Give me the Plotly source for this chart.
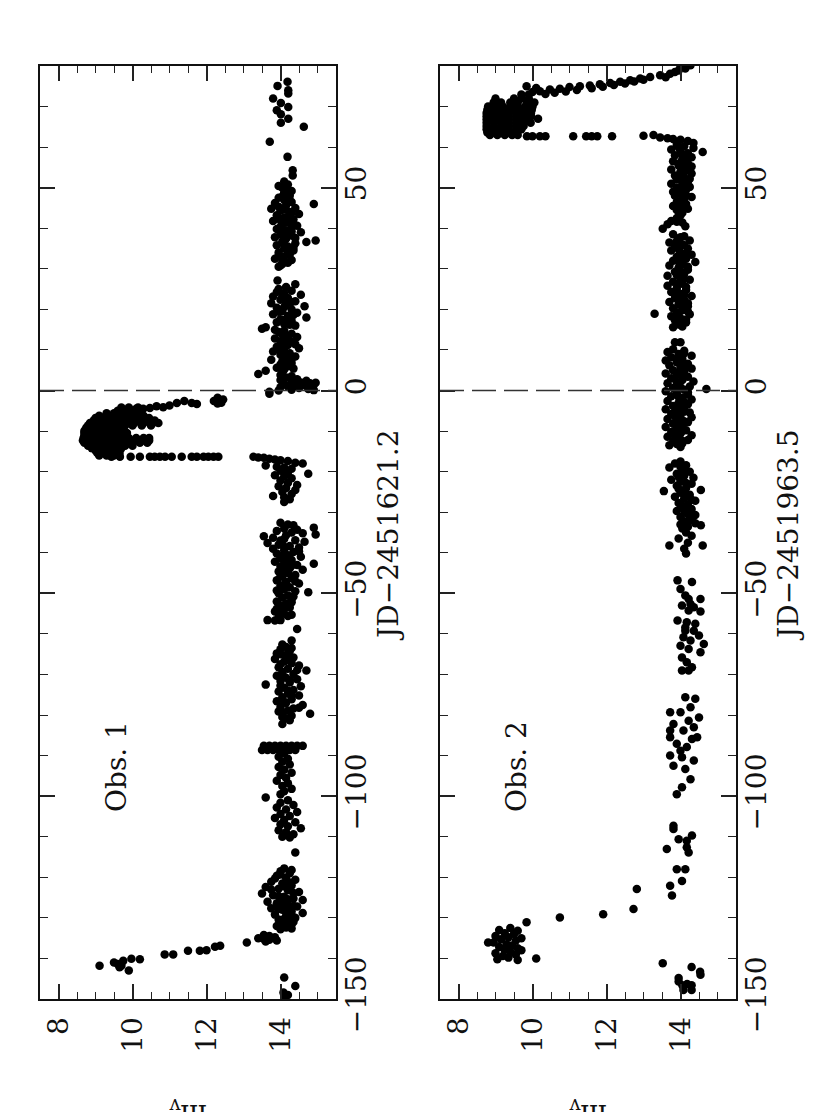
import plotly.graph_objects as go

# ---- data: (JD offset, m_v) ----

# Obs. 1  (JD - 2451621.2)
obs1_late = [(76.1, 14.19), (75.1, 13.92), (74.0, 14.21), (73.2, 14.21), (72.0, 13.80), (70.9, 14.01),
             (69.9, 14.21), (69.1, 13.90), (68.1, 14.01), (67.0, 14.21), (66.0, 14.01), (65.0, 14.63),
             (61.3, 13.71), (57.6, 14.19), (54.3, 14.33), (53.0, 14.33)]

obs1_q2 = [(51.5, 14.1), (50.8, 14.2), (50.0, 14.05), (49.5, 14.2), (48.8, 14.1), (48.0, 14.25), (47.5, 13.95),
           (47.0, 14.1), (46.5, 14.3), (46.0, 14.9), (46.2, 13.85), (45.6, 14.15), (45.0, 14.4), (44.8, 13.75),
           (44.3, 14.0), (44.0, 14.25), (43.5, 14.5), (43.2, 13.9), (42.6, 14.1), (42.2, 14.35), (41.8, 13.8),
           (41.5, 14.2), (41.0, 14.05), (40.6, 14.45), (40.2, 14.3), (39.8, 13.9), (39.5, 14.15), (39.0, 14.55),
           (38.6, 14.0), (38.2, 14.3), (37.8, 13.85), (37.4, 14.15), (37.0, 14.95), (36.6, 14.7), (36.8, 14.05),
           (36.3, 14.4), (35.8, 13.9), (35.5, 14.2), (35.0, 14.1), (34.5, 14.35), (34.0, 13.95), (33.6, 14.25),
           (33.0, 14.1), (32.5, 13.85), (32.0, 14.05), (31.5, 14.2), (30.8, 14.0), (30.5, 13.95),
           (50.4, 13.95), (49.2, 14.3), (47.8, 14.05), (46.8, 14.25), (45.3, 13.95), (44.6, 14.1), (43.8, 14.3),
           (42.9, 14.2), (42.0, 14.0), (41.2, 14.35), (40.4, 14.0), (39.2, 14.3), (38.4, 14.1), (37.6, 14.4),
           (36.0, 14.1), (35.2, 14.35), (34.2, 14.2), (33.3, 13.95), (32.2, 14.3), (31.2, 14.05)]

obs1_q3 = [(27.1, 13.92), (26.2, 14.4), (25.0, 13.95), (24.6, 14.3), (24.0, 14.1), (23.6, 14.55), (23.2, 13.8),
           (22.8, 14.2), (22.4, 14.0), (22.0, 14.4), (21.5, 13.75), (21.2, 14.15), (20.8, 14.65), (20.4, 13.9),
           (20.0, 14.3), (19.6, 14.05), (19.2, 14.45), (18.8, 13.8), (18.4, 14.2), (18.0, 14.7), (17.6, 14.0),
           (17.2, 14.3), (16.8, 13.9), (16.4, 14.1), (16.0, 14.4), (15.6, 13.6), (15.2, 13.5), (14.8, 14.1),
           (14.4, 13.95), (14.0, 14.3), (13.6, 14.15), (13.2, 14.45), (12.8, 13.85), (12.4, 14.05), (12.0, 14.3),
           (11.6, 14.0), (11.2, 14.2), (10.8, 13.9), (10.4, 14.5), (10.0, 14.1), (9.6, 13.8), (9.2, 14.25),
           (8.8, 14.0), (8.4, 14.4), (8.0, 14.15), (7.6, 13.75), (7.2, 14.05), (6.8, 14.3), (6.4, 14.0),
           (6.0, 14.2), (5.6, 13.9), (5.2, 14.1), (4.9, 13.6), (4.1, 13.4), (4.5, 14.05), (3.8, 14.0),
           (3.2, 14.15), (2.6, 14.0), (2.2, 14.3), (2.0, 14.55), (1.8, 14.8), (1.6, 14.1), (1.5, 14.9),
           (1.3, 14.65), (1.2, 14.4), (1.0, 14.2), (0.8, 14.0), (0.6, 14.5), (0.4, 14.75), (0.2, 14.3),
           (0.0, 13.95), (0.1, 14.9), (-0.3, 13.7), (-0.8, 13.7), (2.4, 14.7), (1.9, 14.95), (0.9, 14.85),
           (25.5, 14.15), (24.3, 13.9), (23.0, 14.05), (21.8, 14.3), (20.6, 14.1), (19.4, 13.95), (18.6, 14.35),
           (17.4, 14.1), (16.2, 14.25), (15.0, 13.85), (13.8, 14.05), (12.6, 14.2), (11.4, 14.4), (10.2, 13.95),
           (9.0, 14.1), (7.8, 14.3), (6.6, 14.15), (5.4, 14.35), (3.5, 14.3), (2.8, 14.45)]

# outburst near JD -2 ... -17, stored as rows {JD: [m_v, ...]}
obs1_burst_rows = {
    -4.2: [9.7, 9.9, 10.15],
    -5.0: [9.6, 9.8, 10.0, 10.2],
    -5.6: [9.3, 9.5, 9.7, 9.9, 10.1],
    -6.2: [9.1, 9.3, 9.5, 9.7, 9.9, 10.1, 10.3],
    -6.8: [9.0, 9.2, 9.4, 9.6, 9.8, 10.0, 10.2, 10.45],
    -7.4: [8.95, 9.15, 9.35, 9.55, 9.75, 9.95, 10.15, 10.4, 10.6],
    -8.0: [8.85, 9.05, 9.25, 9.45, 9.65, 9.85, 10.05, 10.3, 10.55, 10.7],
    -8.6: [8.8, 9.0, 9.2, 9.4, 9.6, 9.8, 10.0, 10.25, 10.5],
    -9.2: [8.75, 8.95, 9.15, 9.35, 9.55, 9.75],
    -9.9: [8.7, 8.9, 9.1, 9.3, 9.5, 9.7],
    -10.5: [8.7, 8.9, 9.1, 9.3, 9.5, 9.7, 9.85],
    -11.1: [8.7, 8.9, 9.1, 9.3, 9.5, 9.7],
    -11.7: [8.68, 8.88, 9.08, 9.28, 9.48, 9.68, 9.9, 10.1, 10.3, 10.45],
    -12.3: [8.66, 8.86, 9.06, 9.26, 9.46, 9.66, 9.86, 10.06, 10.26, 10.45],
    -12.9: [8.7, 8.9, 9.1, 9.3, 9.5, 9.7, 9.95, 10.2, 10.4],
    -13.6: [8.8, 9.0, 9.2, 9.4, 9.6, 9.8, 10.0],
    -14.2: [8.9, 9.1, 9.3, 9.5, 9.7],
    -14.8: [9.0, 9.2, 9.4, 9.6],
    -15.4: [9.05, 9.25, 9.45, 9.65],
    -16.0: [9.1, 9.3, 9.5],
    -16.3: [9.43, 9.66, 9.95, 10.2, 10.47, 10.6, 10.74, 10.88, 11.06, 11.33, 11.6, 11.74, 11.92,
            12.05, 12.19, 12.32],
}
obs1_burst_tail = [(-1.8, 12.3), (-2.2, 12.45), (-2.6, 12.2), (-3.0, 12.4), (-3.2, 12.3),
                   (-3.3, 11.74), (-3.1, 11.6), (-2.6, 11.4), (-3.1, 11.2), (-3.7, 11.0), (-4.1, 10.83),
                   (-3.9, 10.65), (-4.3, 10.47), (-4.5, 10.29), (-4.5, 10.1), (-4.8, 9.93), (-4.9, 9.75)]

obs1_q4 = [(-16.3, 13.27), (-16.5, 13.4), (-16.6, 13.55), (-16.8, 13.7), (-17.0, 13.85), (-17.2, 14.0),
           (-17.4, 14.2), (-17.8, 14.4), (-18.0, 14.6), (-18.5, 13.6), (-18.8, 13.9), (-19.0, 14.1),
           (-19.3, 14.3), (-19.8, 14.0), (-20.2, 14.2), (-20.5, 14.75), (-20.9, 13.85), (-21.2, 14.1),
           (-21.6, 14.3), (-22.2, 14.0), (-22.8, 14.2), (-23.3, 14.45), (-23.6, 13.95), (-24.0, 14.15),
           (-24.5, 14.4), (-25.0, 14.05), (-25.5, 14.3), (-26.0, 13.8), (-26.3, 14.1), (-26.8, 14.25),
           (-27.5, 14.1)]

obs1_q5 = [(-32.6, 14.0), (-33.0, 14.2), (-33.2, 14.35), (-33.8, 14.9), (-34.0, 14.1), (-34.6, 13.9),
           (-35.0, 14.3), (-35.2, 14.6), (-35.5, 14.95), (-35.9, 13.55), (-36.3, 13.8), (-36.6, 14.1),
           (-36.9, 14.4), (-37.3, 14.65), (-37.6, 13.65), (-38.0, 13.95), (-38.3, 14.25), (-38.7, 14.5),
           (-39.0, 13.8), (-39.4, 14.1), (-39.8, 14.35), (-40.2, 13.9), (-40.6, 14.2), (-41.0, 14.55),
           (-41.4, 14.0), (-41.8, 14.3), (-42.2, 13.85), (-42.7, 14.9), (-42.6, 14.15), (-43.0, 14.45),
           (-43.4, 14.0), (-43.8, 14.25), (-44.2, 14.6), (-44.6, 13.95), (-45.0, 14.2), (-45.5, 14.4),
           (-45.9, 14.05), (-46.3, 14.3), (-46.8, 13.9), (-47.2, 14.15), (-47.6, 14.5), (-48.0, 14.0),
           (-48.5, 14.25), (-49.0, 14.1), (-49.7, 14.75), (-49.5, 14.4), (-50.0, 13.95), (-50.5, 14.2),
           (-51.0, 14.05), (-51.5, 14.3), (-52.0, 13.9), (-52.5, 14.15), (-53.0, 14.0), (-53.5, 14.25),
           (-54.0, 14.1), (-54.5, 13.85), (-55.0, 14.05), (-55.6, 14.2), (-56.6, 13.65), (-56.7, 13.85),
           (-56.6, 14.0), (-58.8, 14.45), (-61.6, 14.3),
           (-34.3, 14.45), (-35.7, 14.15), (-37.0, 14.0), (-38.5, 14.1), (-39.6, 14.5), (-40.8, 14.0),
           (-42.0, 14.1), (-43.2, 14.3), (-44.4, 14.1), (-45.7, 14.0), (-47.0, 14.4), (-48.2, 14.15),
           (-49.3, 13.9), (-50.8, 14.35), (-52.2, 14.3), (-53.8, 13.9), (-55.3, 14.3), (-55.9, 13.95)]

obs1_q6 = [(-62.6, 14.05), (-63.2, 14.15), (-63.8, 14.0), (-64.2, 14.25), (-64.8, 13.9), (-65.2, 14.15),
           (-65.8, 14.35), (-66.2, 13.85), (-66.8, 14.1), (-67.2, 14.3), (-67.8, 14.5), (-68.2, 13.95),
           (-68.6, 14.2), (-69.0, 14.7), (-69.4, 14.05), (-69.9, 14.35), (-70.3, 13.9), (-70.8, 14.15),
           (-71.2, 14.45), (-71.6, 14.0), (-72.0, 14.25), (-72.5, 13.6), (-72.9, 14.55), (-73.3, 14.1),
           (-73.8, 14.35), (-74.2, 13.95), (-74.7, 14.2), (-75.2, 14.5), (-75.6, 14.05), (-76.1, 14.3),
           (-76.6, 13.9), (-77.0, 14.15), (-77.5, 14.6), (-78.0, 14.0), (-78.4, 14.35), (-78.9, 14.2),
           (-79.4, 14.05), (-79.7, 14.8), (-80.2, 14.3), (-80.8, 14.15), (-81.3, 14.25), (-82.2, 14.05),
           (-63.5, 14.3), (-65.0, 14.0), (-66.5, 14.25), (-67.5, 14.0), (-68.9, 14.45), (-70.0, 14.05),
           (-71.4, 14.25), (-72.7, 14.0), (-74.0, 14.2), (-75.4, 14.3), (-76.8, 14.1), (-78.2, 14.5),
           (-79.1, 13.95), (-80.5, 14.05)]

obs1_q7 = [(-87.6, 13.55), (-87.6, 13.7), (-87.6, 13.85), (-87.6, 14.0), (-87.6, 14.15), (-87.6, 14.3),
           (-87.6, 14.45), (-87.6, 14.6), (-88.6, 13.5), (-88.6, 13.65), (-88.6, 13.8), (-88.6, 13.95),
           (-88.6, 14.1), (-88.6, 14.25), (-88.6, 14.4), (-89.5, 14.1), (-90.3, 13.95), (-90.8, 14.2),
           (-91.5, 14.05), (-92.2, 14.25), (-92.8, 13.95), (-93.5, 14.1), (-94.2, 14.3), (-94.8, 14.0),
           (-95.5, 14.15), (-96.2, 13.9), (-96.8, 14.2), (-97.5, 14.05), (-98.2, 14.3), (-98.8, 14.1),
           (-99.5, 14.0), (-100.3, 13.6),
           (-101.0, 14.2), (-101.6, 14.0), (-102.2, 14.35), (-102.8, 13.9), (-103.3, 14.15), (-103.9, 14.45),
           (-104.4, 14.0), (-104.9, 14.25), (-105.4, 13.85), (-105.9, 14.1), (-106.4, 14.4), (-106.9, 14.0),
           (-107.4, 14.2), (-107.9, 14.55), (-108.4, 13.95), (-108.9, 14.15), (-109.4, 14.35), (-110.0, 14.05),
           (-110.2, 14.25), (-113.9, 14.4)]

obs1_q8 = [(-117.8, 14.1), (-118.5, 14.0), (-119.0, 14.25), (-119.6, 13.9), (-120.1, 14.15), (-120.6, 14.4),
           (-121.1, 13.75), (-121.5, 14.05), (-122.0, 14.3), (-122.4, 13.6), (-122.8, 13.95), (-123.2, 14.2),
           (-123.6, 14.5), (-124.0, 13.5), (-124.4, 13.8), (-124.8, 14.1), (-125.2, 14.35), (-125.6, 14.6),
           (-126.0, 13.65), (-126.4, 13.9), (-126.8, 14.2), (-127.2, 14.45), (-127.6, 13.75), (-128.0, 14.05),
           (-128.4, 14.3), (-128.8, 14.6), (-129.2, 13.85), (-129.6, 14.15), (-130.0, 14.4), (-130.4, 13.95),
           (-130.8, 14.2), (-131.2, 14.05), (-131.6, 14.3), (-132.0, 13.9), (-132.4, 14.15), (-132.8, 14.0),
           (-118.2, 14.3), (-119.3, 14.0), (-120.3, 13.85), (-121.3, 14.25), (-122.2, 14.1), (-123.0, 13.75),
           (-123.9, 14.35), (-124.6, 13.95), (-125.4, 14.2), (-126.2, 14.05), (-127.0, 14.35), (-127.8, 13.95),
           (-128.6, 14.15), (-129.4, 14.3), (-130.2, 14.1), (-131.0, 14.35), (-131.8, 14.1), (-132.6, 14.3)]

obs1_early = [(-134.2, 13.55), (-134.5, 13.7), (-134.8, 13.85), (-135.0, 13.4), (-135.2, 13.55),
              (-135.4, 13.7), (-135.6, 13.9), (-135.8, 13.6), (-136.1, 13.09), (-136.9, 12.37),
              (-137.1, 12.23), (-138.0, 12.0), (-138.1, 11.82), (-138.1, 11.5), (-139.0, 11.1),
              (-139.0, 10.87), (-140.2, 10.2), (-140.1, 9.97), (-140.6, 9.75), (-141.4, 9.6),
              (-141.8, 9.7), (-141.0, 9.5), (-142.2, 9.65), (-143.0, 9.9), (-141.8, 9.11),
              (-144.7, 14.1), (-146.8, 14.4), (-148.4, 14.08), (-149.0, 14.2), (-149.2, 14.1)]

# Obs. 2  (JD - 2451963.5)
obs2_decline = [(80.2, 14.27), (79.4, 14.13), (78.9, 13.95), (78.1, 13.72), (77.7, 13.45), (77.3, 13.18),
                (76.9, 12.91), (76.5, 12.64), (76.1, 12.37), (75.8, 12.1), (75.5, 11.82), (75.2, 11.55),
                (75.0, 11.28), (74.8, 11.0), (74.4, 10.74), (74.2, 10.47), (73.8, 10.2), (73.6, 10.0),
                (75.0, 9.84), (79.8, 14.0), (78.5, 13.85), (77.2, 13.6), (76.6, 13.0), (76.2, 12.75),
                (75.7, 12.5), (75.3, 12.2), (74.9, 11.9), (74.5, 11.6), (74.1, 11.2), (73.7, 10.9),
                (73.4, 10.6), (73.1, 10.35), (74.6, 10.1)]

obs2_plateau_rows = {
    73.0: [9.7, 9.9],
    72.0: [9.0, 9.5, 9.7, 9.9],
    71.0: [8.95, 9.15, 9.4, 9.6, 9.85, 10.05],
    70.0: [8.8, 9.0, 9.2, 9.4, 9.6, 9.8, 10.0],
    69.2: [8.78, 8.98, 9.18, 9.38, 9.58, 9.78, 9.98],
    68.4: [8.76, 8.96, 9.16, 9.36, 9.56, 9.76, 9.96],
    67.6: [8.76, 8.96, 9.16, 9.36, 9.56, 9.76, 9.96],
    67.0: [10.15],
    66.8: [8.76, 8.96, 9.16, 9.36, 9.56, 9.76, 9.9],
    66.0: [8.76, 8.96, 9.16, 9.36, 9.56, 9.76, 9.95],
    65.2: [8.76, 8.96, 9.16, 9.36, 9.56, 9.76],
    64.4: [8.76, 8.96, 9.16, 9.36, 9.56, 9.7],
    63.6: [8.78, 8.98, 9.18, 9.38, 9.58],
    63.0: [8.85, 9.05, 9.25, 9.45, 9.6],
    62.7: [9.85, 10.0, 10.2, 10.35, 11.1, 11.45, 11.6, 11.75, 12.15],
}

obs2_q1 = [(62.8, 13.0), (63.0, 13.27), (62.4, 13.45), (62.2, 13.65), (62.0, 13.8), (61.8, 14.0), (61.5, 14.2),
           (61.0, 14.35), (60.5, 13.9), (60.2, 14.1), (59.8, 14.35), (59.4, 13.75), (58.8, 14.6), (59.0, 14.0),
           (58.5, 14.2), (58.0, 13.85), (57.5, 14.3), (57.0, 14.05), (56.5, 13.8), (56.0, 14.2), (55.5, 13.95),
           (55.0, 14.15), (54.5, 13.75), (54.0, 14.0), (53.5, 14.3), (53.0, 13.85), (52.5, 14.1), (52.0, 13.9),
           (51.5, 14.2), (51.0, 13.75), (50.5, 14.05), (50.0, 13.9), (49.5, 14.15), (49.0, 13.8), (48.5, 14.0),
           (47.7, 14.3), (48.0, 13.85), (47.2, 14.1), (46.5, 13.9), (46.0, 14.15), (45.5, 13.8), (45.0, 14.0),
           (44.5, 13.9), (43.8, 14.05), (43.2, 14.0), (41.8, 13.75), (41.6, 13.9), (41.4, 14.05), (41.0, 13.65),
           (40.5, 14.13), (39.9, 13.52),
           (61.2, 13.9), (60.0, 13.95), (58.2, 14.05), (57.2, 14.15), (56.2, 14.0), (55.2, 14.3), (54.2, 14.15),
           (53.2, 14.05), (52.2, 14.25), (51.2, 14.05), (50.2, 14.25), (49.2, 14.0), (48.2, 14.15), (46.8, 14.0),
           (45.8, 14.05), (44.8, 14.2), (42.5, 13.9)]

obs2_q2 = [(38.5, 13.8), (38.0, 14.1), (37.5, 13.95), (37.0, 14.25), (36.5, 13.7), (36.0, 14.05), (35.5, 13.85),
           (35.0, 14.2), (34.5, 13.75), (34.0, 14.0), (33.5, 14.3), (33.0, 13.9), (32.5, 14.15), (32.0, 13.8),
           (31.7, 14.4), (31.2, 14.05), (30.8, 13.7), (30.3, 13.95), (29.8, 14.2), (29.3, 13.85), (28.8, 14.1),
           (28.3, 13.65), (27.8, 14.0), (27.3, 14.25), (26.8, 13.8), (26.3, 14.05), (25.8, 13.65), (25.3, 13.9),
           (24.8, 14.15), (24.3, 13.75), (23.8, 14.0), (23.3, 14.3), (22.8, 13.85), (22.3, 14.1), (21.8, 13.7),
           (21.3, 13.95), (20.8, 14.2), (20.3, 13.8), (19.8, 14.05), (19.3, 13.9), (18.9, 13.3), (18.8, 14.25),
           (18.3, 13.75), (17.8, 14.0), (17.3, 13.85), (16.8, 14.15), (16.3, 13.95), (15.8, 14.05), (15.6, 13.8),
           (11.9, 13.85), (11.9, 14.0),
           (37.8, 14.0), (36.8, 13.9), (35.8, 14.1), (34.8, 13.95), (33.8, 14.15), (32.8, 14.05), (31.8, 13.95),
           (30.5, 14.2), (29.5, 14.0), (28.5, 13.9), (27.5, 14.1), (26.5, 13.95), (25.5, 14.15), (24.5, 13.9),
           (23.5, 14.1), (22.5, 13.95), (21.5, 14.2), (20.5, 14.05), (19.5, 14.2), (18.5, 13.95), (17.5, 14.15),
           (16.5, 14.05)]

obs2_q3 = [(10.2, 13.8), (9.8, 14.1), (9.5, 13.65), (9.0, 13.95), (8.6, 14.3), (8.2, 13.75), (7.8, 14.05),
           (7.4, 13.6), (7.0, 13.9), (6.6, 14.2), (6.2, 13.7), (5.8, 14.0), (5.4, 14.3), (5.0, 13.8), (4.6, 14.1),
           (4.2, 13.6), (3.8, 13.9), (3.4, 14.2), (3.0, 13.75), (2.6, 14.05), (2.2, 14.35), (1.8, 13.65),
           (1.4, 13.95), (1.0, 14.25), (0.4, 14.7), (0.6, 13.8), (0.2, 14.1), (-0.2, 13.6), (-0.6, 13.9),
           (-1.0, 14.2), (-1.4, 13.75), (-1.8, 14.05), (-2.2, 14.3), (-2.6, 13.65), (-3.0, 13.95), (-3.4, 14.2),
           (-3.8, 13.8), (-4.2, 14.1), (-4.6, 13.6), (-5.0, 13.9), (-5.4, 14.25), (-5.8, 13.75), (-6.2, 14.0),
           (-6.6, 14.3), (-7.0, 13.65), (-7.4, 13.95), (-7.8, 14.2), (-8.2, 13.8), (-8.6, 14.05), (-9.0, 13.6),
           (-9.4, 13.9), (-9.8, 14.15), (-10.2, 13.75), (-10.6, 14.0), (-11.0, 14.3), (-11.4, 13.65),
           (-11.8, 13.95), (-12.2, 14.2), (-12.6, 13.8), (-13.0, 14.05), (-13.5, 13.7), (-13.9, 14.0),
           (9.2, 14.1), (8.0, 13.95), (6.8, 14.05), (5.6, 14.15), (4.4, 13.95), (3.2, 14.05), (2.0, 13.9),
           (0.8, 14.0), (-0.4, 14.2), (-1.6, 13.95), (-2.8, 14.1), (-4.0, 13.95), (-5.2, 14.1), (-6.4, 13.85),
           (-7.6, 14.1), (-8.8, 13.9), (-10.0, 14.05), (-11.2, 13.85), (-12.4, 14.05), (-13.2, 13.9)]

obs2_q4 = [(-17.5, 14.0), (-18.0, 13.85), (-18.4, 14.15), (-19.0, 13.7), (-19.5, 14.05), (-20.0, 14.25),
           (-20.5, 13.9), (-21.0, 14.1), (-21.5, 14.35), (-22.0, 13.75), (-22.5, 14.0), (-23.0, 14.3),
           (-23.5, 13.9), (-24.0, 14.15), (-24.5, 14.55), (-24.8, 13.55), (-25.2, 14.0), (-25.7, 14.25),
           (-26.2, 13.85), (-26.7, 14.1), (-27.2, 14.4), (-27.7, 13.95), (-28.2, 14.2), (-28.7, 14.05),
           (-29.2, 14.3), (-29.7, 13.9), (-30.2, 14.15), (-30.7, 14.4), (-31.2, 14.0), (-31.7, 14.25),
           (-32.2, 14.1), (-32.7, 14.4), (-33.2, 14.55), (-33.6, 14.2), (-34.0, 14.05), (-35.0, 14.15),
           (-35.8, 14.3), (-36.5, 13.95), (-37.5, 14.2), (-38.2, 13.7), (-38.2, 14.6), (-39.0, 14.1),
           (-40.2, 14.15),
           (-18.8, 14.0), (-20.2, 14.1), (-21.3, 13.95), (-22.8, 14.15), (-24.2, 13.95), (-25.5, 14.1),
           (-26.9, 14.3), (-28.0, 14.0), (-29.5, 14.1), (-30.9, 14.25), (-32.0, 14.3), (-33.0, 14.0)]

obs2_q5 = [(-46.8, 13.92), (-47.2, 14.31), (-48.9, 14.0), (-50.5, 14.13), (-51.4, 14.54), (-52.6, 14.27),
           (-53.0, 14.04), (-54.2, 14.22), (-54.5, 14.54), (-56.7, 13.92), (-57.1, 14.17), (-58.4, 14.13),
           (-59.2, 14.36), (-60.4, 14.5), (-60.8, 14.08), (-61.6, 14.27), (-62.5, 14.63), (-62.9, 14.0),
           (-63.7, 14.22), (-64.5, 14.54), (-65.8, 14.04), (-67.0, 14.17), (-68.2, 14.31), (-69.0, 14.04),
           (-69.0, 14.22), (-59.2, 14.13), (-57.5, 14.4), (-51.4, 14.22), (-53.4, 14.36)]

obs2_q6 = [(-75.6, 14.13), (-76.0, 14.4), (-79.3, 13.72), (-79.3, 14.0), (-78.1, 14.27), (-80.6, 14.5),
           (-81.4, 14.22), (-82.2, 13.81), (-83.0, 14.36), (-83.8, 14.08), (-85.5, 13.72), (-85.9, 14.31),
           (-87.1, 13.9), (-87.9, 14.17), (-90.0, 13.72), (-90.4, 14.04), (-91.2, 14.36), (-92.5, 13.81),
           (-93.3, 14.13), (-95.8, 14.27), (-97.8, 14.04), (-99.5, 13.9), (-83.8, 13.72), (-85.5, 14.45),
           (-88.8, 14.0)]

obs2_q7 = [(-107.3, 13.81), (-108.1, 13.81), (-109.7, 14.31), (-110.6, 13.95), (-113.0, 13.63),
           (-112.6, 14.17), (-113.9, 14.22), (-118.0, 13.9), (-118.0, 14.13), (-120.9, 14.04),
           (-122.1, 13.72), (-124.5, 13.77), (-111.0, 14.17),
           (-122.9, 12.82), (-127.8, 12.73), (-129.1, 11.91), (-129.9, 10.74), (-131.1, 9.84)]

obs2_early = [(-132.5, 9.4), (-133.0, 9.1), (-133.2, 9.6), (-133.8, 9.25), (-134.0, 9.5), (-134.5, 9.0),
              (-134.8, 9.35), (-135.3, 9.15), (-135.6, 9.55), (-136.1, 8.8), (-136.1, 8.95), (-136.5, 9.3),
              (-136.8, 9.45), (-137.2, 9.1), (-137.5, 9.6), (-137.9, 9.25), (-138.3, 9.4), (-138.7, 9.0),
              (-139.0, 9.55), (-139.4, 9.2), (-139.8, 9.35), (-140.2, 9.05), (-140.4, 9.6), (-140.0, 10.1),
              (-138.0, 9.7), (-135.0, 9.7),
              (-141.2, 13.52), (-142.1, 14.3), (-143.3, 14.53), (-144.0, 14.54), (-144.8, 13.95),
              (-145.7, 13.95), (-146.3, 14.18), (-146.6, 14.05), (-146.6, 14.3), (-147.8, 14.08), (-147.8, 14.3)]

panel_labels = ["Obs. 1", "Obs. 2"]
jd_titles = ["JD\u22122451621.2", "JD\u22122451963.5"]
mag_ticks = [8, 10, 12, 14]
jd_ticks = [-150, -100, -50, 0, 50]
ref_jd = 0.0


def rows_to_pairs(rows):
    return [(jd, m) for jd, mags in rows.items() for m in mags]


obs1 = (obs1_late + obs1_q2 + obs1_q3 + rows_to_pairs(obs1_burst_rows) + obs1_burst_tail
        + obs1_q4 + obs1_q5 + obs1_q6 + obs1_q7 + obs1_q8 + obs1_early)
obs2 = (obs2_decline + rows_to_pairs(obs2_plateau_rows) + obs2_q1 + obs2_q2 + obs2_q3
        + obs2_q4 + obs2_q5 + obs2_q6 + obs2_q7 + obs2_early)

# page body has an 8px margin, so the figure is drawn 8px in from the window edge
OFF = 8
W, H = 830 - OFF, 1112 - OFF
FONT = "DejaVu Serif, serif"
FS = 28


def fx(px):
    return (px - OFF) / W


def fy(px):
    return 1 - (px - OFF) / H


fig = go.Figure()
for i, data in enumerate([obs1, obs2]):
    sfx = "" if i == 0 else str(i + 1)
    fig.add_trace(go.Scatter(
        x=[m for _, m in data], y=[jd for jd, _ in data],
        mode="markers", xaxis="x" + sfx, yaxis="y" + sfx,
        marker=dict(color="black", size=8.5, line=dict(width=0)),
        showlegend=False, hoverinfo="skip"))

panels_px = [(40, 336), (440, 736)]
top_px, bot_px = 66, 999

axis_common = dict(showline=True, linewidth=2, linecolor="#111", mirror="allticks",
                   ticks="inside", tickcolor="#222", tickwidth=1.5, ticklen=15,
                   showgrid=False, zeroline=False, tickangle=-90,
                   tickfont=dict(family=FONT, size=FS, color="#111"))

layout = dict(width=W, height=H, margin=dict(l=0, r=0, t=0, b=0, autoexpand=False),
              paper_bgcolor="white", plot_bgcolor="white", showlegend=False)

for i, (x0, x1) in enumerate(panels_px):
    sfx = "" if i == 0 else str(i + 1)
    layout["xaxis" + sfx] = dict(axis_common, domain=[fx(x0), fx(x1)], anchor="y" + sfx,
                                 range=[7.5, 15.5], tickvals=mag_ticks, ticklabelstandoff=5,
                                 minor=dict(ticks="inside", tick0=7.5, dtick=0.5, ticklen=7,
                                            tickwidth=1.2, tickcolor="#222"))
    layout["yaxis" + sfx] = dict(axis_common, domain=[fy(bot_px), fy(top_px)], anchor="x" + sfx,
                                 range=[-150, 80], tickvals=jd_ticks, side="right", ticklabelstandoff=-6,
                                 minor=dict(ticks="inside", tick0=0, dtick=10, ticklen=8,
                                            tickwidth=1.2, tickcolor="#222"))
fig.update_layout(**layout)

annotations = []
shapes = []
for i, (x0, x1) in enumerate(panels_px):
    sfx = "" if i == 0 else str(i + 1)
    shapes.append(dict(type="line", xref="x" + sfx + " domain", yref="y" + sfx,
                       x0=0, x1=1, y0=ref_jd, y1=ref_jd,
                       line=dict(color="#333", width=1.5, dash="24px,8px")))
    annotations.append(dict(text=jd_titles[i], x=fx(x1 + 52), y=fy(535), xref="paper", yref="paper",
                            textangle=-90, showarrow=False, xanchor="center", yanchor="middle",
                            font=dict(family=FONT, size=FS, color="#111")))
    annotations.append(dict(text=panel_labels[i], x=fx(x0 + 76), y=fy(767), xref="paper", yref="paper",
                            textangle=-90, showarrow=False, xanchor="center", yanchor="middle",
                            font=dict(family=FONT, size=FS, color="#111")))
    annotations.append(dict(text="m<sub>v</sub>", x=fx((x0 + x1) / 2), y=fy(1113), xref="paper",
                            yref="paper", textangle=180, showarrow=False, xanchor="center",
                            yanchor="middle", font=dict(family=FONT, size=FS, color="#111")))
fig.update_layout(shapes=shapes, annotations=annotations)

fig.write_html("out.html")
